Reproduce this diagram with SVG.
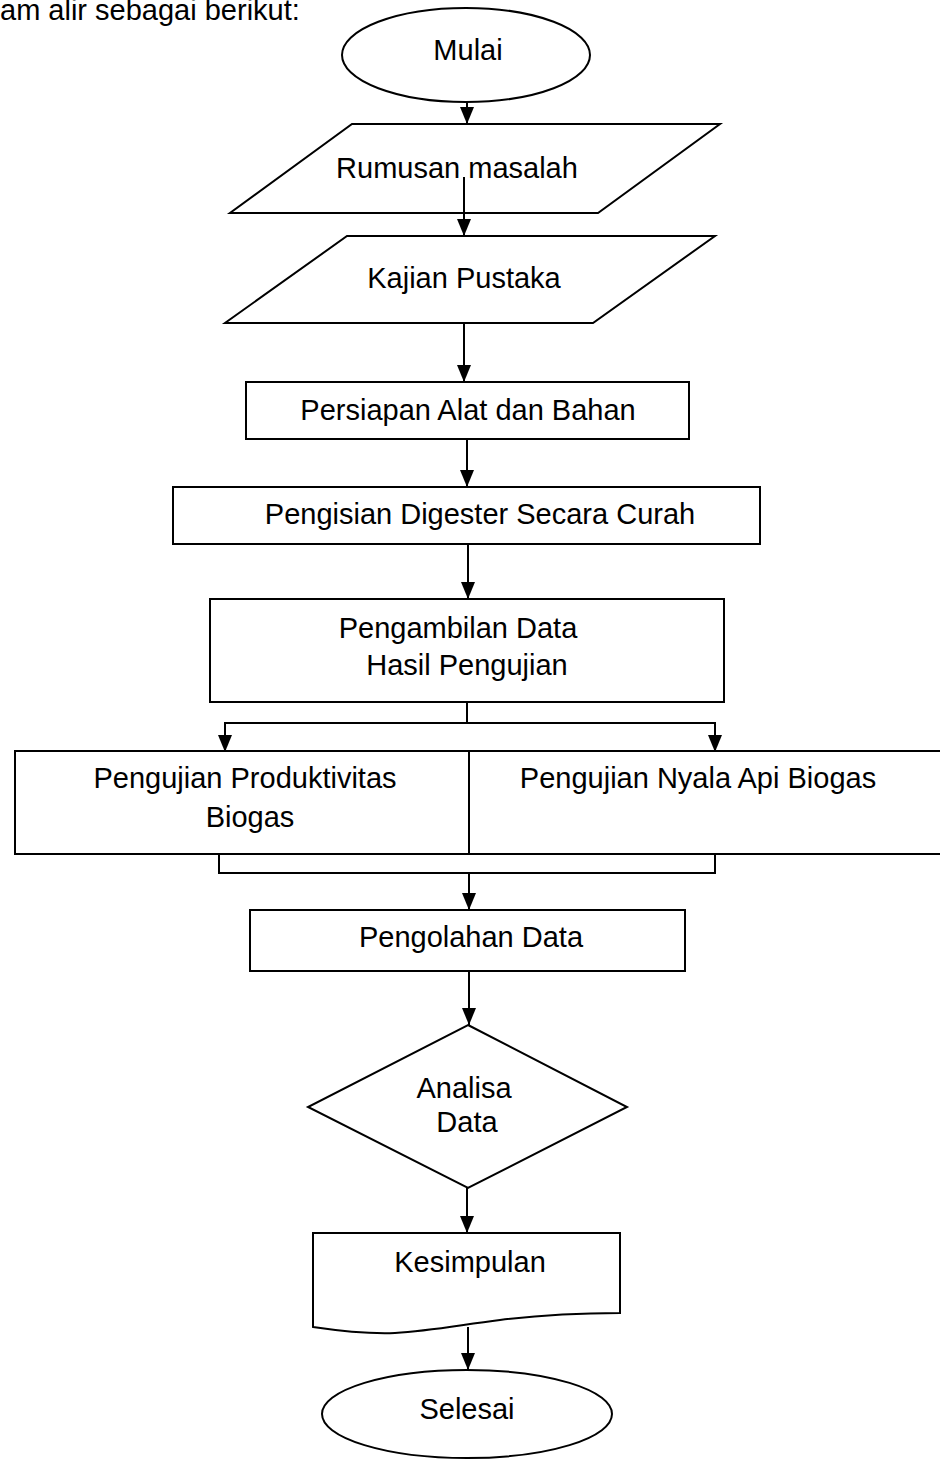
<svg xmlns="http://www.w3.org/2000/svg" width="940" height="1461" viewBox="0 0 940 1461">
<defs>
<marker id="ah" markerUnits="userSpaceOnUse" markerWidth="17" markerHeight="14" refX="17" refY="7" orient="auto" viewBox="0 0 17 14">
<path d="M0,0 L17,7 L0,14 Z" fill="#000"/>
</marker>
<style>
.s{fill:#fff;stroke:#000;stroke-width:2}
.t{font-family:"Liberation Sans",Arial,sans-serif;font-size:29px;fill:#000;text-anchor:middle}
.c{fill:none;stroke:#000;stroke-width:2}
</style>
</defs>
<rect width="940" height="1461" fill="#fff"/>
<text class="t" x="0" y="20" style="text-anchor:start">am alir sebagai berikut:</text>

<g id="mulai"><ellipse class="s" cx="466" cy="55" rx="124" ry="47"/><text class="t" x="468" y="60">Mulai</text></g>
<g id="rumusan"><polygon class="s" points="352,124 720,124 598,213 230,213"/><text class="t" x="457" y="178">Rumusan masalah</text></g>
<g id="kajian"><polygon class="s" points="347,236 715,236 593,323 225,323"/><text class="t" x="464" y="288">Kajian Pustaka</text></g>
<g id="persiapan"><rect class="s" x="246" y="382" width="443" height="57"/><text class="t" x="468" y="420">Persiapan Alat dan Bahan</text></g>
<g id="pengisian"><rect class="s" x="173" y="487" width="587" height="57"/><text class="t" x="480" y="524">Pengisian Digester Secara Curah</text></g>
<g id="pengambilan"><rect class="s" x="210" y="599" width="514" height="103"/><text class="t" x="458" y="638">Pengambilan Data</text><text class="t" x="467" y="675">Hasil Pengujian</text></g>
<g id="pengujian"><rect class="s" x="15" y="751" width="935" height="103"/><line class="c" x1="469" y1="751" x2="469" y2="854"/>
<text class="t" x="245" y="788">Pengujian Produktivitas</text><text class="t" x="250" y="827">Biogas</text>
<text class="t" x="698" y="788">Pengujian Nyala Api Biogas</text></g>
<g id="pengolahan"><rect class="s" x="250" y="910" width="435" height="61"/><text class="t" x="471" y="947">Pengolahan Data</text></g>
<g id="analisa"><polygon class="s" points="468,1025 627,1107 468,1188 308,1107"/><text class="t" x="464" y="1098">Analisa</text><text class="t" x="467" y="1132">Data</text></g>
<g id="kesimpulan"><path class="s" d="M313,1233 H620 V1313 C580,1313 540,1315 500,1320 C460,1325 430,1331 395,1333 C370,1334 340,1331 313,1327 Z"/><text class="t" x="470" y="1272">Kesimpulan</text></g>
<g id="selesai"><ellipse class="s" cx="467" cy="1414" rx="145" ry="44"/><text class="t" x="467" y="1419">Selesai</text></g>

<g id="connectors" class="c">
<line class="c" x1="467" y1="102" x2="467" y2="124" marker-end="url(#ah)"/>
<line class="c" x1="464" y1="177" x2="464" y2="236" marker-end="url(#ah)"/>
<line class="c" x1="464" y1="323" x2="464" y2="382" marker-end="url(#ah)"/>
<line class="c" x1="467" y1="439" x2="467" y2="487" marker-end="url(#ah)"/>
<line class="c" x1="468" y1="544" x2="468" y2="599" marker-end="url(#ah)"/>
<line class="c" x1="467" y1="702" x2="467" y2="723"/>
<polyline class="c" points="225,740 225,723 715,723 715,740"/>
<line class="c" x1="225" y1="723" x2="225" y2="752" marker-end="url(#ah)"/>
<line class="c" x1="715" y1="723" x2="715" y2="752" marker-end="url(#ah)"/>
<polyline class="c" points="219,854 219,873 715,873 715,854"/>
<line class="c" x1="469" y1="873" x2="469" y2="910" marker-end="url(#ah)"/>
<line class="c" x1="469" y1="971" x2="469" y2="1025" marker-end="url(#ah)"/>
<line class="c" x1="467" y1="1188" x2="467" y2="1233" marker-end="url(#ah)"/>
<line class="c" x1="468" y1="1327" x2="468" y2="1370" marker-end="url(#ah)"/>
</g>
</svg>
